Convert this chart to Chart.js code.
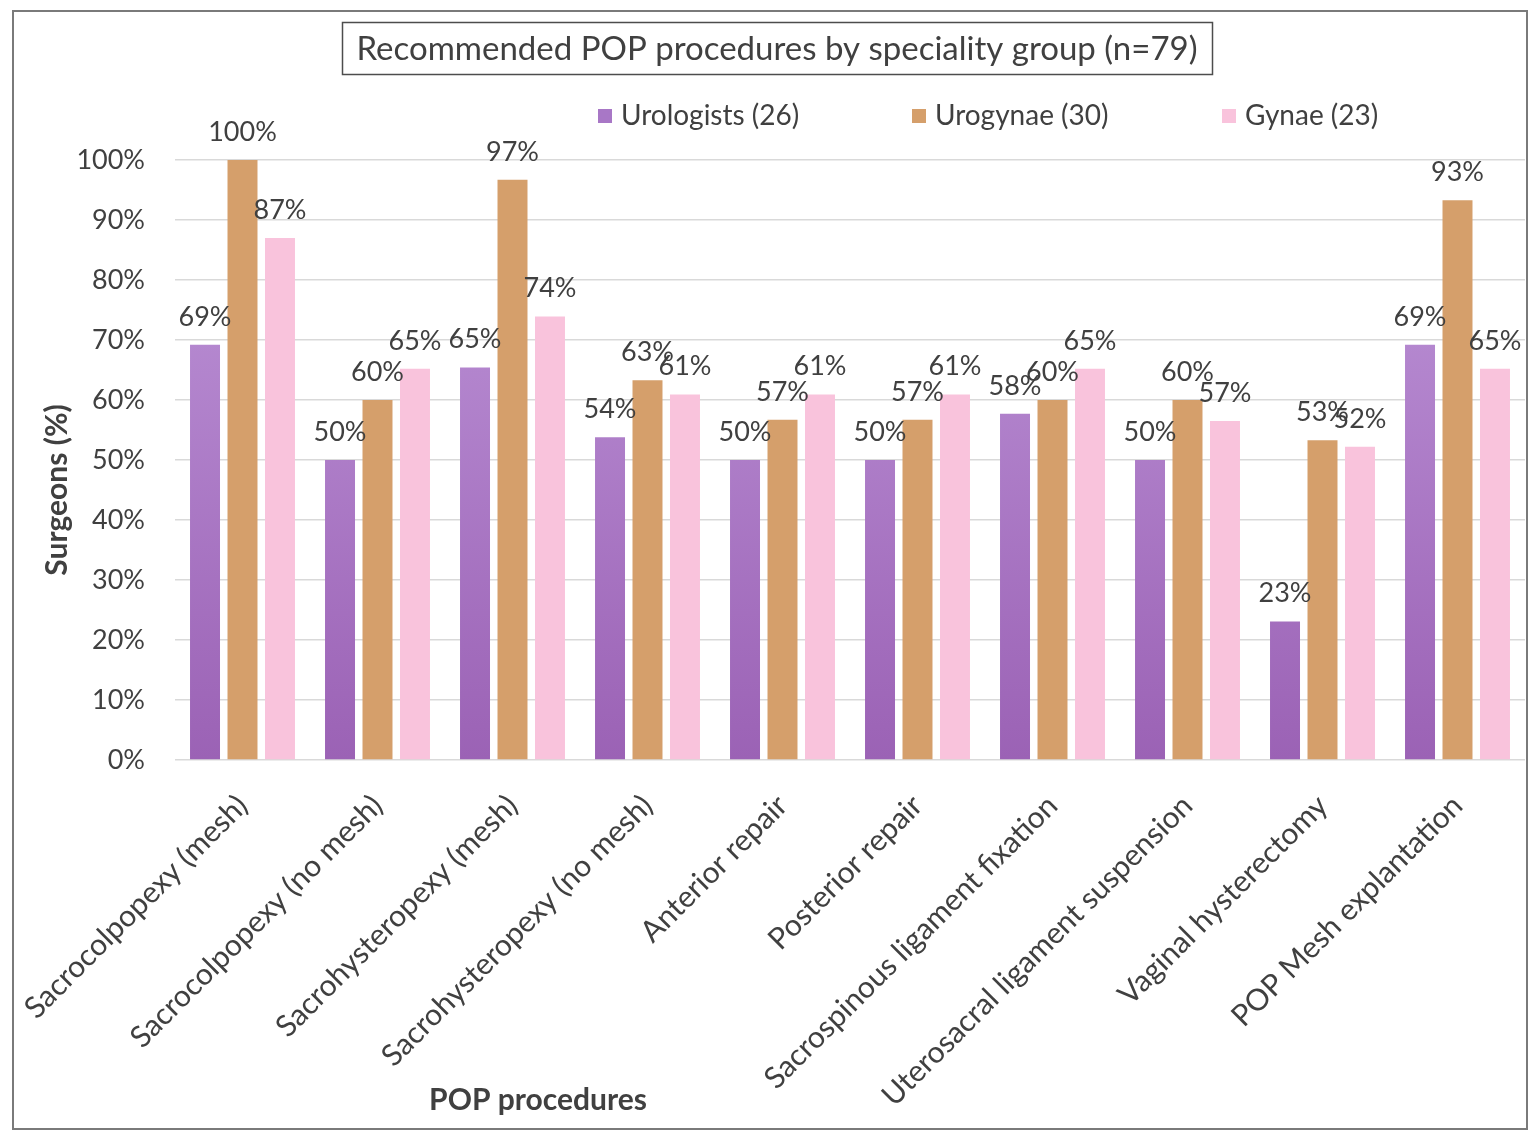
<!DOCTYPE html>
<html>
<head>
<meta charset="utf-8">
<script src="https://cdn.jsdelivr.net/npm/chart.js@4/dist/chart.umd.min.js"></script>
<style>
  html, body { margin: 0; padding: 0; background: #fff; }
  canvas { display: block; }
</style>
</head>
<body>
<canvas id="chart" width="1539" height="1138"></canvas>
<script>
// categories and series (percent of surgeons in each group)
const procedures = [
  'Sacrocolpopexy (mesh)', 'Sacrocolpopexy (no mesh)', 'Sacrohysteropexy (mesh)',
  'Sacrohysteropexy (no mesh)', 'Anterior repair', 'Posterior repair',
  'Sacrospinous ligament fixation', 'Uterosacral ligament suspension',
  'Vaginal hysterectomy', 'POP Mesh explantation'
];
const urologists = [69.2, 50, 65.4, 53.8, 50, 50, 57.7, 50, 23.1, 69.2];
const urogynae = [100, 60, 96.7, 63.3, 56.7, 56.7, 60, 60, 53.3, 93.3];
const gynae = [87, 65.2, 73.9, 60.9, 60.9, 60.9, 65.2, 56.5, 52.2, 65.2];
const seriesNames = ['Urologists (26)', 'Urogynae (30)', 'Gynae (23)'];
const yTicks = [0, 10, 20, 30, 40, 50, 60, 70, 80, 90, 100];

const chartTitle = 'Recommended POP procedures by speciality group (n=79)';
const yTitle = 'Surgeons (%)';
const xTitle = 'POP procedures';

const FONT = 'Lato, "Open Sans", sans-serif';
const TEXT = '#404040';
const colors = ['#a877c6', '#d59f6b', '#f9c3dc'];

const purpleFill = function(ctx) {
    const area = ctx.chart.chartArea;
    if (!area) return colors[0];
    const g = ctx.chart.ctx.createLinearGradient(0, area.bottom, 0, area.top);
    g.addColorStop(0, '#9b62b5');
    g.addColorStop(1, '#bf97da');
    return g;
};

// frame, title box, legend and axis titles
const decorations = {
    id: 'decorations',
    beforeDraw(chart) {
        const c = chart.ctx;
        c.save();
        c.fillStyle = '#fff';
        c.fillRect(0, 0, chart.width, chart.height);
        c.restore();
    },
    afterDraw(chart) {
        const c = chart.ctx;
        c.save();
        c.strokeStyle = '#7a7a7a';
        c.lineWidth = 2;
        c.strokeRect(13, 11, 1514, 1118);

        c.strokeStyle = '#4d4d4d';
        c.lineWidth = 1.5;
        c.strokeRect(342.5, 22.5, 870, 52);
        c.fillStyle = TEXT;
        c.font = '33px ' + FONT;
        c.textAlign = 'center';
        c.textBaseline = 'middle';
        c.fillText(chartTitle, 777, 49);

        const legendX = [598, 912, 1222];
        c.font = '28px ' + FONT;
        c.textAlign = 'left';
        seriesNames.forEach(function(name, i) {
            c.fillStyle = colors[i];
            c.fillRect(legendX[i], 109, 14, 14);
            c.fillStyle = TEXT;
            c.fillText(name, legendX[i] + 23, 116);
        });

        c.font = 'bold 30px ' + FONT;
        c.textAlign = 'center';
        c.fillText(xTitle, 538, 1100);
        c.translate(57, 490);
        c.rotate(-Math.PI / 2);
        c.fillText(yTitle, 0, 0);
        c.restore();
    }
};

// value labels above each bar
const valueLabels = {
    id: 'valueLabels',
    afterDatasetsDraw(chart) {
        const c = chart.ctx;
        c.save();
        c.fillStyle = TEXT;
        c.font = '27px ' + FONT;
        c.textAlign = 'center';
        c.textBaseline = 'middle';
        chart.data.datasets.forEach(function(ds, i) {
            chart.getDatasetMeta(i).data.forEach(function(bar, j) {
                c.fillText(Math.round(ds.data[j]) + '%', bar.x, bar.y - 28);
            });
        });
        c.restore();
    }
};

new Chart(document.getElementById('chart'), {
    type: 'bar',
    data: {
        labels: procedures,
        datasets: [
            { label: seriesNames[0], data: urologists, backgroundColor: purpleFill },
            { label: seriesNames[1], data: urogynae, backgroundColor: colors[1] },
            { label: seriesNames[2], data: gynae, backgroundColor: colors[2] }
        ]
    },
    options: {
        responsive: false,
        animation: false,
        devicePixelRatio: 1,
        categoryPercentage: 0.833,
        barPercentage: 0.8,
        layout: { padding: { top: 160, right: 14, left: 0, bottom: 0 } },
        plugins: {
            legend: { display: false },
            title: { display: false },
            tooltip: { enabled: false }
        },
        scales: {
            x: {
                grid: { display: false },
                border: { display: false },
                ticks: {
                    color: TEXT,
                    font: { family: FONT, size: 30 },
                    minRotation: 45,
                    maxRotation: 45,
                    padding: 20,
                    autoSkip: false
                },
                afterFit: function(scale) { scale.height = 378; }
            },
            y: {
                min: 0,
                max: 100,
                grid: { color: '#d9d9d9', lineWidth: 1.5, drawTicks: false },
                border: { display: false },
                ticks: {
                    stepSize: 10,
                    color: TEXT,
                    padding: 30,
                    font: { family: FONT, size: 27 },
                    callback: function(v) { return yTicks.includes(v) ? v + '%' : ''; }
                },
                afterFit: function(scale) { scale.width = 175; }
            }
        }
    },
    plugins: [decorations, valueLabels]
});
</script>
</body>
</html>
